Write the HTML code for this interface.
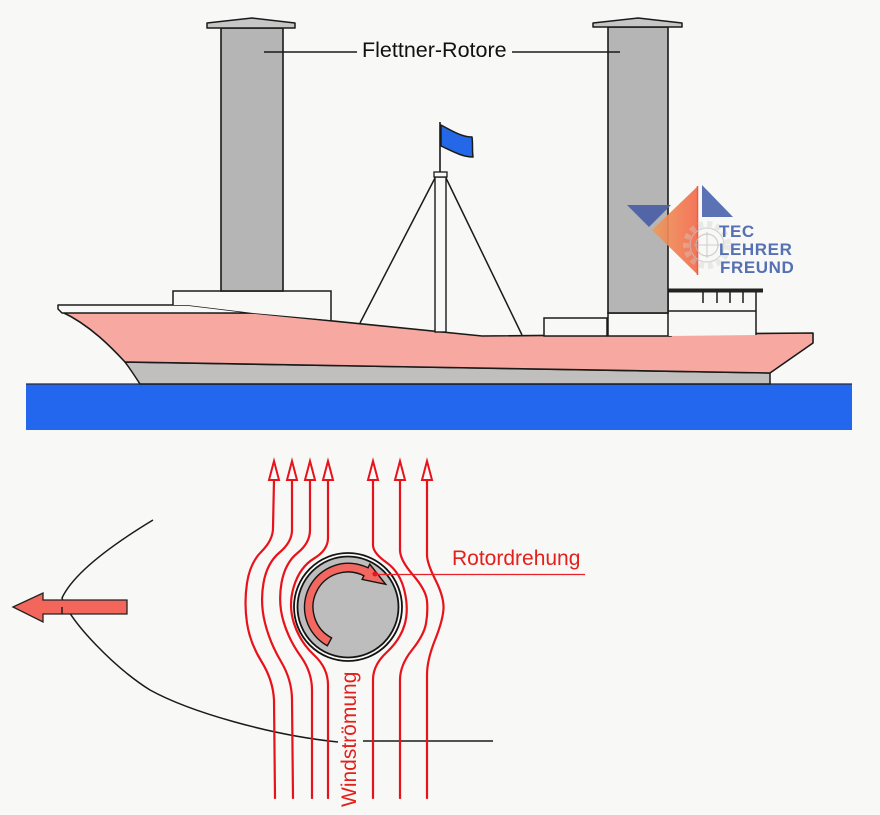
<!DOCTYPE html>
<html>
<head>
<meta charset="utf-8">
<style>
html,body{margin:0;padding:0;background:#f8f8f6;}
svg{display:block;}
text{font-family:"Liberation Sans",Arial,sans-serif;}
</style>
</head>
<body>
<svg width="880" height="815" viewBox="0 0 880 815" xmlns="http://www.w3.org/2000/svg">
<defs>
<linearGradient id="og" x1="0" y1="0" x2="1" y2="0">
<stop offset="0" stop-color="#ee9a5c"/>
<stop offset="1" stop-color="#f26a4c"/>
</linearGradient>
</defs>
<rect width="880" height="815" fill="#f8f8f6"/>

<!-- water -->
<rect x="26" y="384" width="826" height="46" fill="#2467ef"/>
<line x1="26" y1="384" x2="852" y2="384" stroke="#2a2a2a" stroke-width="1.3"/>

<!-- grey hull bottom -->
<path d="M125,362 L770,373 L770,384 L140,384 Q131,370 125,362 Z" fill="#c1bfbe" stroke="#1a1a1a" stroke-width="1.5" stroke-linejoin="round"/>
<!-- pink hull -->
<path d="M62,312 L253,313 L482,336 L813,333 L813,343 L770,373 L125,362 C112,348 90,325 62,312 Z" fill="#f7a9a1" stroke="#1a1a1a" stroke-width="1.6" stroke-linejoin="round"/>
<!-- forecastle -->
<path d="M58,305 L187,305 L253,313 L62,313 L58,309 Z" fill="#f8f8f6" stroke="#1a1a1a" stroke-width="1.5" stroke-linejoin="round"/>

<!-- left deck box -->
<path d="M173,305 L173,291 L331,291 L331,320 L253,313 L187,305 Z" fill="#f8f8f6"/>
<path d="M173,305 L173,291 L331,291 L331,320" fill="none" stroke="#1a1a1a" stroke-width="1.5"/>

<!-- left rotor -->
<rect x="221" y="28" width="62" height="263" fill="#b5b5b5" stroke="#1a1a1a" stroke-width="1.6"/>
<path d="M207,28 L207,23 L252,18 L295,23 L295,28 Z" fill="#c6c6c6" stroke="#1a1a1a" stroke-width="1.5" stroke-linejoin="round"/>

<!-- right structures -->
<rect x="544" y="318" width="63" height="18" fill="#f8f8f6" stroke="#1a1a1a" stroke-width="1.5"/>
<rect x="608" y="313" width="63" height="23" fill="#f8f8f6" stroke="#1a1a1a" stroke-width="1.5"/>
<path d="M668,336 L668,290 L756,290 L756,335" fill="#f8f8f6" stroke="#1a1a1a" stroke-width="1.5"/>
<line x1="668" y1="311" x2="756" y2="311" stroke="#1a1a1a" stroke-width="1.5"/>
<rect x="668" y="288.5" width="95" height="4" fill="#222"/>
<g stroke="#1a1a1a" stroke-width="1.5">
<line x1="703" y1="292" x2="703" y2="303"/>
<line x1="717" y1="292" x2="717" y2="303"/>
<line x1="730" y1="292" x2="730" y2="303"/>
<line x1="743" y1="292" x2="743" y2="303"/>
</g>
<!-- right rotor -->
<rect x="608" y="27" width="60" height="286" fill="#b5b5b5" stroke="#1a1a1a" stroke-width="1.6"/>
<path d="M593,27 L593,23 L638,18 L682,23 L682,27 Z" fill="#c6c6c6" stroke="#1a1a1a" stroke-width="1.5" stroke-linejoin="round"/>

<!-- mast and stays -->
<line x1="435" y1="178" x2="360" y2="323" stroke="#1a1a1a" stroke-width="1.5"/>
<line x1="446" y1="178" x2="522" y2="335" stroke="#1a1a1a" stroke-width="1.5"/>
<rect x="435" y="177" width="11" height="155" fill="#f8f8f6" stroke="#1a1a1a" stroke-width="1.4"/>
<rect x="434" y="172" width="13" height="5" fill="#f8f8f6" stroke="#1a1a1a" stroke-width="1.3"/>
<line x1="440" y1="122" x2="440" y2="172" stroke="#1a1a1a" stroke-width="1.6"/>
<path d="M441,125 C452,131 462,137 472,137 C473,144 472,150 473,157 C462,157 452,151 441,146 Z" fill="#2468e8" stroke="#1a1a1a" stroke-width="1.5" stroke-linejoin="round"/>

<!-- label -->
<line x1="264" y1="52" x2="357" y2="52" stroke="#1a1a1a" stroke-width="1.4"/>
<line x1="512" y1="52" x2="620" y2="52" stroke="#1a1a1a" stroke-width="1.4"/>
<text x="362" y="57" font-size="21.5" fill="#111">Flettner-Rotore</text>

<!-- logo -->
<g>
<polygon points="627,205 671,205 649,227" fill="#4a5ea6" opacity="0.92"/>
<polygon points="698,186 652,230 698,275" fill="url(#og)" opacity="0.92"/>
<line x1="697.5" y1="186" x2="697.5" y2="275" stroke="#f25a40" stroke-width="1.5"/>
<polygon points="702,185 702,217 733,217" fill="#5b73b5"/>
<circle cx="707" cy="245" r="21" fill="none" stroke="#cfcfcf" stroke-width="6" stroke-dasharray="5 4" opacity="0.4"/>
<circle cx="707" cy="245" r="17" fill="none" stroke="#c4c4c4" stroke-width="1.2" opacity="0.7"/>
<circle cx="707" cy="245" r="11" fill="none" stroke="#bdbdbd" stroke-width="1.2" opacity="0.7"/>
<line x1="694" y1="245" x2="720" y2="245" stroke="#bdbdbd" stroke-width="1" opacity="0.7"/>
<line x1="707" y1="232" x2="707" y2="258" stroke="#bdbdbd" stroke-width="1" opacity="0.7"/>
<g fill="#5571b4" font-size="17" font-weight="bold" letter-spacing="0.6">
<text x="719" y="237">TEC</text>
<text x="719" y="255">LEHRER</text>
<text x="720" y="273">FREUND</text>
</g>
</g>

<!-- bottom: curve and arrow -->
<path d="M153,520 C120,540 75,570 62,598 C70,622 115,668 150,690 C190,712 270,735 338,742" fill="none" stroke="#1a1a1a" stroke-width="1.5"/>
<line x1="363" y1="741" x2="493" y2="741" stroke="#1a1a1a" stroke-width="1.5"/>
<polygon points="13,607 43,593 43,600 127,600 127,614 43,614 43,622" fill="#f2665c" stroke="#222" stroke-width="1.3" stroke-linejoin="miter"/>
<line x1="62" y1="607" x2="62" y2="614" stroke="#1a1a1a" stroke-width="1.4"/>

<!-- flow lines -->
<g fill="none" stroke="#e8121a" stroke-width="2.2" stroke-linejoin="round" stroke-linecap="round">
<path d="M274,480 L273,528 Q273,540 261.5,551.5 Q250,563 247,583 Q244,603 247,623 Q250,643 261.5,661.5 Q273,680 274,700 L275,798"/>
<path d="M292,480 L292,530 Q292,542 279.5,552.5 Q267,563 263.5,583 Q260,603 265,623 Q270,643 281,661.5 Q292,680 292,700 L293,798"/>
<path d="M310,480 L310,530 Q310,543 297.5,553 Q285,563 281.5,583 Q278,603 283.5,621.5 Q289,640 300.5,656 Q312,672 312,690 L312,798"/>
<path d="M328,480 L328,538 Q328,550 314,558.5 Q300,567 294,586 Q288,605 294,623.5 Q300,642 314,655 Q328,668 328,685 L328,798"/>
<path d="M373,480 L373,545 Q373,553 386.5,562.5 Q400,572 404.5,591 Q409,610 404.5,625 Q400,640 386.5,652.5 Q373,665 373,680 L373,798"/>
<path d="M400,480 L400,550 Q400,560 413,575 Q426,590 427,601 Q428,612 426,623.5 Q424,635 412,650 Q400,665 400,680 L400,798"/>
<path d="M427,480 L427,555 Q427,563 435.5,580 Q444,597 443.5,608.5 Q443,620 435,640 Q427,660 427,675 L427,798"/>
</g>
<g fill="#f8f8f6" stroke="#e8121a" stroke-width="2" stroke-linejoin="miter">
<polygon points="274,461 269,480 279,480"/>
<polygon points="292,461 287,480 297,480"/>
<polygon points="310,461 305,480 315,480"/>
<polygon points="328,461 323,480 333,480"/>
<polygon points="373,461 368,480 378,480"/>
<polygon points="400,461 395,480 405,480"/>
<polygon points="427,461 422,480 432,480"/>
</g>

<!-- rotor cross-section -->
<circle cx="348" cy="607" r="54" fill="#f8f8f6" stroke="#141414" stroke-width="1.8"/>
<circle cx="348" cy="607" r="50.5" fill="#bdbdbd" stroke="#141414" stroke-width="1.8"/>
<path d="M331.6,637.9 L327.3,645.8 A44,44 0 0 1 368.0,567.8 L369.8,564.2 L385.7,584.3 L362.1,579.4 L363.9,575.8 A35,35 0 0 0 331.6,637.9 Z" fill="#f26860" stroke="#141414" stroke-width="1.4" stroke-linejoin="miter"/>
<circle cx="375" cy="574" r="2.5" fill="#e8121a"/>
<line x1="375" y1="574.5" x2="585" y2="574.5" stroke="#e8202a" stroke-width="1.2"/>
<text x="452" y="565" font-size="21" fill="#e3201b">Rotordrehung</text>
<text transform="translate(356,807) rotate(-90)" font-size="21" fill="#e3201b">Windströmung</text>
</svg>
</body>
</html>
